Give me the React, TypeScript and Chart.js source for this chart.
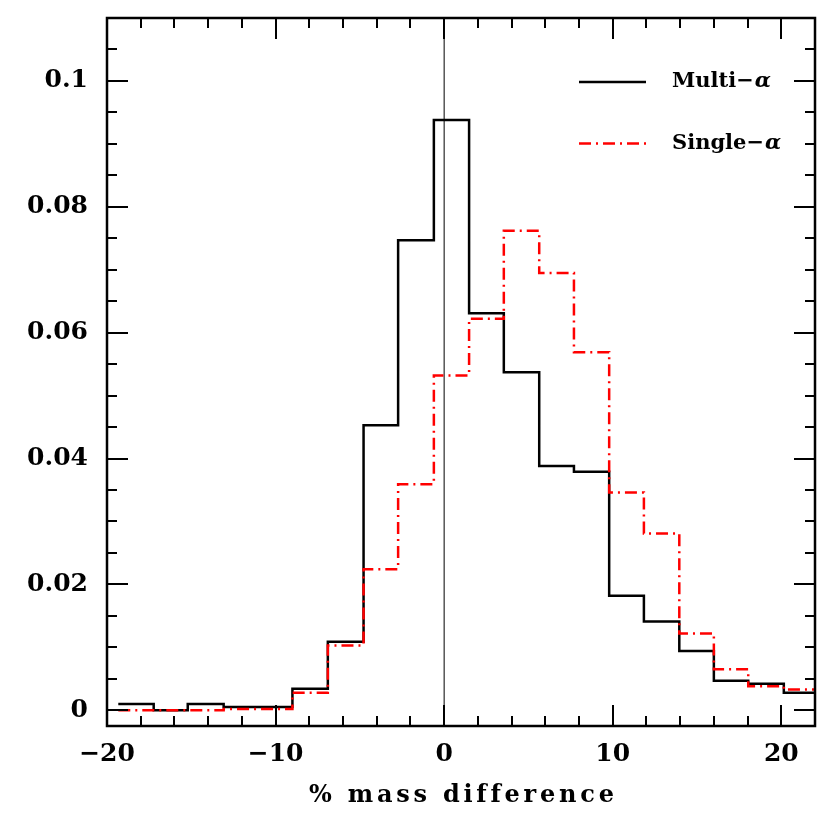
import React, { useEffect, useRef } from "react";
import { Chart, registerables } from "chart.js";

Chart.register(...registerables);

// Histogram bin edges (% mass difference)
const binEdges = [-19.33, -17.23, -15.21, -13.08, -11.04, -9.0, -6.9, -4.78, -2.73, -0.61, 1.48, 3.54, 5.64, 7.7, 9.79, 11.85, 13.95, 16.0, 18.04, 20.15, 22.25];
// Fractions per bin
const multiAlpha = [0.001, 0.0, 0.001, 0.0005, 0.0005, 0.0034, 0.0109, 0.0453, 0.0747, 0.0938, 0.0631, 0.0537, 0.0388, 0.0379, 0.0182, 0.0141, 0.0094, 0.0047, 0.0042, 0.0028];
const singleAlpha = [0.0, 0.0, 0.0, 0.0002, 0.0002, 0.0028, 0.0103, 0.0224, 0.0359, 0.0532, 0.0622, 0.0762, 0.0695, 0.0569, 0.0346, 0.0281, 0.0122, 0.0065, 0.0038, 0.0033];

const seriesLabels = ["Multi", "Single"];
const xTicks = [-20, -10, 0, 10, 20];
const yTicks = [0, 0.02, 0.04, 0.06, 0.08, 0.1];
const yTickLabels = ["0", "0.02", "0.04", "0.06", "0.08", "0.1"];
const xRange = [-20, 22];
const yRange = [-0.0025, 0.11];
const xTitle = "% mass difference";

const FONT = "'DejaVu Serif', serif";

function toSteps(edges: number[], vals: number[]) {
  const pts = vals.map((v, i) => ({ x: edges[i], y: v }));
  pts.push({ x: edges[edges.length - 1], y: vals[vals.length - 1] });
  return pts;
}

const frameTicksPlugin = {
  id: "frameTicks",
  afterDatasetsDraw(chart: any) {
    const { ctx, chartArea, scales } = chart;
    const { left, right, top, bottom } = chartArea;
    const xs = scales.x;
    const ys = scales.y;
    ctx.save();
    ctx.strokeStyle = "#000";
    ctx.lineWidth = 2;
    ctx.beginPath();
    for (let i = 0; i <= 21; i++) {
      const v = xRange[0] + i * 2;
      const px = Math.round(xs.getPixelForValue(v));
      const len = v % 10 === 0 ? 21 : 10;
      ctx.moveTo(px, bottom);
      ctx.lineTo(px, bottom - len);
      ctx.moveTo(px, top);
      ctx.lineTo(px, top + len);
    }
    for (let i = 0; i <= 22; i++) {
      const v = i * 0.005;
      const py = Math.round(ys.getPixelForValue(v));
      const len = i % 4 === 0 ? 21 : 10;
      ctx.moveTo(left, py);
      ctx.lineTo(left + len, py);
      ctx.moveTo(right, py);
      ctx.lineTo(right - len, py);
    }
    ctx.stroke();
    ctx.lineWidth = 2.5;
    ctx.strokeRect(left, top, right - left, bottom - top);
    ctx.restore();
  },
  afterDraw(chart: any) {
    const { ctx, chartArea } = chart;
    const { left, right, top } = chartArea;
    ctx.save();
    // legend
    const items = [chart.data.datasets[0], chart.data.datasets[1]];
    items.forEach((ds: any, i: number) => {
      const y = top + 64 + i * 61.5;
      const x0 = right - 236;
      const x1 = right - 169;
      ctx.strokeStyle = ds.borderColor;
      ctx.lineWidth = ds.borderWidth;
      ctx.setLineDash(ds.borderDash || []);
      ctx.beginPath();
      ctx.moveTo(x0, y);
      ctx.lineTo(x1, y);
      ctx.stroke();
      ctx.setLineDash([]);
      ctx.fillStyle = "#000";
      ctx.textBaseline = "middle";
      ctx.textAlign = "left";
      const prefix = seriesLabels[i] + "\u2212";
      ctx.font = `bold 21px ${FONT}`;
      const tx = right - 143;
      ctx.fillText(prefix, tx, y);
      const w = ctx.measureText(prefix).width;
      ctx.font = `italic bold 21px ${FONT}`;
      ctx.fillText("\u03b1", tx + w + 1, y);
    });
    // x-axis title
    ctx.font = `bold 24px ${FONT}`;
    ctx.fillStyle = "#000";
    ctx.textAlign = "left";
    ctx.textBaseline = "alphabetic";
    const plain = ctx.measureText(xTitle).width;
    const target = 304;
    const sp = Math.max(0, (target - plain) / (xTitle.length - 1));
    (ctx as any).letterSpacing = `${sp}px`;
    const cx = (left + right) / 2;
    ctx.fillText(xTitle, cx - target / 2, 802);
    (ctx as any).letterSpacing = "0px";
    ctx.restore();
  },
};

export default function App() {
  const ref = useRef<HTMLCanvasElement | null>(null);
  useEffect(() => {
    if (!ref.current) return;
    const chart = new Chart(ref.current, {
      type: "line",
      data: {
        datasets: [
          {
            label: "Multi-\u03b1",
            data: toSteps(binEdges, multiAlpha),
            borderColor: "#000000",
            borderWidth: 2.5,
            stepped: "before",
            pointRadius: 0,
            fill: false,
            order: 2,
            clip: 0,
          } as any,
          {
            label: "Single-\u03b1",
            data: toSteps(binEdges, singleAlpha),
            borderColor: "#ff0000",
            borderWidth: 2.5,
            borderDash: [12, 5, 2, 5],
            stepped: "before",
            pointRadius: 0,
            fill: false,
            order: 1,
            clip: 0,
          } as any,
          {
            label: "zero",
            data: [
              { x: 0, y: yRange[0] },
              { x: 0, y: yRange[1] },
            ],
            borderColor: "#000000",
            borderWidth: 1,
            pointRadius: 0,
            fill: false,
            order: 3,
            clip: 0,
          } as any,
        ],
      },
      options: {
        animation: false,
        responsive: true,
        maintainAspectRatio: false,
        layout: { padding: { left: 0, top: 18, right: 15, bottom: 0 } },
        plugins: { legend: { display: false }, tooltip: { enabled: false } },
        scales: {
          x: {
            type: "linear",
            min: xRange[0],
            max: xRange[1],
            grid: { display: false, drawTicks: false },
            border: { display: false },
            afterBuildTicks: (s: any) => {
              s.ticks = xTicks.map((v) => ({ value: v }));
            },
            afterFit: (s: any) => {
              s.height = 92;
              s.paddingLeft = 0;
              s.paddingRight = 0;
            },
            ticks: {
              padding: 13,
              color: "#000",
              font: { family: FONT, size: 25, weight: "bold" },
              maxRotation: 0,
              autoSkip: false,
              callback: (v: any) => (Number(v) < 0 ? "\u2212" + Math.abs(Number(v)) : String(v)),
            },
          },
          y: {
            type: "linear",
            min: yRange[0],
            max: yRange[1],
            grid: { display: false, drawTicks: false },
            border: { display: false },
            afterBuildTicks: (s: any) => {
              s.ticks = yTicks.map((v) => ({ value: v }));
            },
            afterFit: (s: any) => {
              s.width = 107;
              s.paddingTop = 0;
              s.paddingBottom = 0;
            },
            ticks: {
              padding: 19,
              color: "#000",
              font: { family: FONT, size: 25, weight: "bold" },
              autoSkip: false,
              callback: (v: any) => {
                const idx = yTicks.findIndex((t) => Math.abs(t - Number(v)) < 1e-9);
                return idx >= 0 ? yTickLabels[idx] : "";
              },
            },
          },
        },
      },
      plugins: [frameTicksPlugin],
    });
    return () => chart.destroy();
  }, []);
  return (
    <div style={{ position: "absolute", left: 0, top: 0, width: 830, height: 818, background: "#fff" }}>
      <canvas ref={ref} />
    </div>
  );
}
